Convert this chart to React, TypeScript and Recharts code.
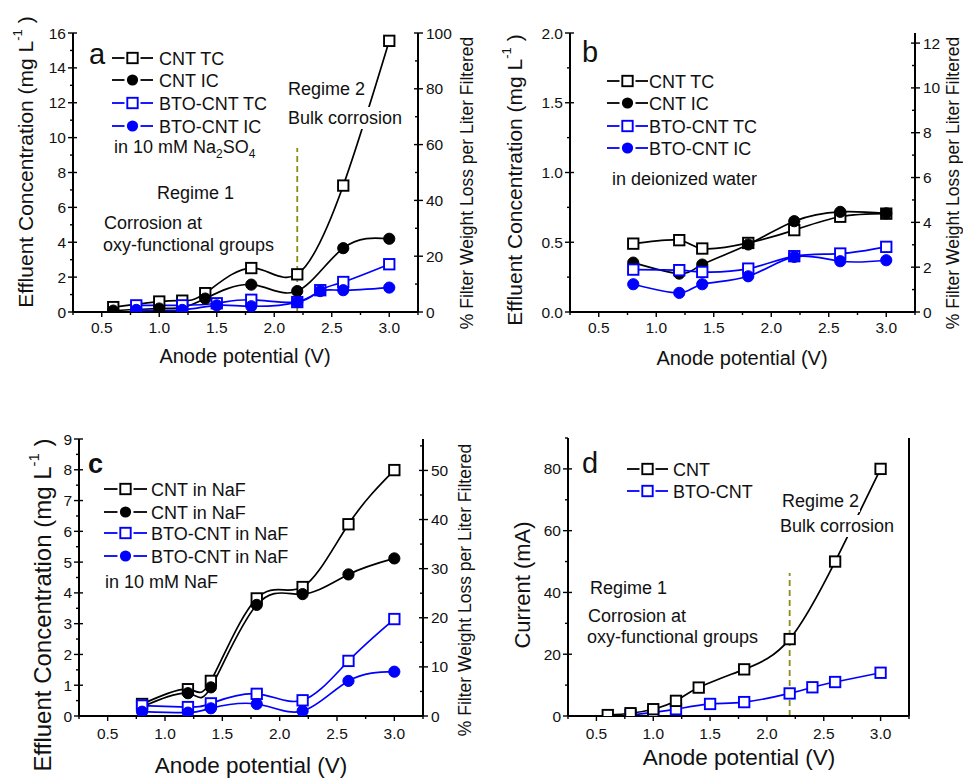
import React from 'react';
import { LineChart, Line, XAxis, YAxis, ReferenceLine } from 'recharts';

const FONT = '"Liberation Sans", Arial, Helvetica, sans-serif';
const BLACK = '#000000';
const BLUE = '#0000ff';
const OLIVE = '#8c8c14';

// ---------- Panel a (10 mM Na2SO4) ----------
const aCntX = [0.6, 1.0, 1.2, 1.4, 1.8, 2.2, 2.6, 3.0];
const aCntTC = [0.28, 0.6, 0.65, 1.08, 2.52, 2.16, 7.25, 15.55];
const aCntIC = [0.08, 0.2, 0.25, 0.77, 1.57, 1.2, 3.66, 4.2];
const aBtoX = [0.8, 1.2, 1.5, 1.8, 2.2, 2.4, 2.6, 3.0];
const aBtoTC = [0.38, 0.38, 0.5, 0.7, 0.57, 1.25, 1.72, 2.74];
const aBtoIC = [0.12, 0.12, 0.38, 0.33, 0.57, 1.2, 1.25, 1.4];

// ---------- Panel b (deionized water) ----------
const bX = [0.8, 1.2, 1.4, 1.8, 2.2, 2.6, 3.0];
const bCntTC = [0.49, 0.515, 0.455, 0.495, 0.587, 0.683, 0.705];
const bCntIC = [0.354, 0.275, 0.34, 0.484, 0.651, 0.718, 0.707];
const bBtoTC = [0.304, 0.3, 0.287, 0.311, 0.4, 0.419, 0.467];
const bBtoIC = [0.199, 0.137, 0.199, 0.256, 0.395, 0.364, 0.371];

// ---------- Panel c (10 mM NaF) ----------
const cX = [0.8, 1.2, 1.4, 1.8, 2.2, 2.6, 3.0];
const cCntTC = [0.39, 0.87, 1.14, 3.82, 4.19, 6.23, 7.99];
const cCntIC = [0.3, 0.74, 0.93, 3.61, 3.96, 4.6, 5.12];
const cBtoTC = [0.34, 0.29, 0.41, 0.72, 0.51, 1.79, 3.15];
const cBtoIC = [0.14, 0.11, 0.25, 0.39, 0.16, 1.14, 1.44];

// ---------- Panel d (current) ----------
const dCntX = [0.6, 0.8, 1.0, 1.2, 1.4, 1.8, 2.2, 2.6, 3.0];
const dCnt = [0.3, 0.9, 2.2, 4.9, 9.2, 15.1, 24.9, 50, 80];
const dBtoX = [0.8, 1.0, 1.2, 1.5, 1.8, 2.2, 2.4, 2.6, 3.0];
const dBto = [0.3, 1.2, 2.2, 3.9, 4.5, 7.3, 9.3, 11, 14];

// ---------- Ticks ----------
const xTicks = [0.25, 0.5, 0.75, 1.0, 1.25, 1.5, 1.75, 2.0, 2.25, 2.5, 2.75, 3.0, 3.25];
const xMajors = [0.5, 1.0, 1.5, 2.0, 2.5, 3.0];
const aLeftTicks = [0, 1, 2, 3, 4, 5, 6, 7, 8, 9, 10, 11, 12, 13, 14, 15, 16];
const aLeftMajors = [0, 2, 4, 6, 8, 10, 12, 14, 16];
const aRightTicks = [0, 10, 20, 30, 40, 50, 60, 70, 80, 90, 100];
const aRightMajors = [0, 20, 40, 60, 80, 100];
const bLeftTicks = [0, 0.25, 0.5, 0.75, 1.0, 1.25, 1.5, 1.75, 2.0];
const bLeftMajors = [0, 0.5, 1.0, 1.5, 2.0];
const bRightTicks = [0, 1, 2, 3, 4, 5, 6, 7, 8, 9, 10, 11, 12];
const bRightMajors = [0, 2, 4, 6, 8, 10, 12];
const cLeftTicks = [0, 0.5, 1, 1.5, 2, 2.5, 3, 3.5, 4, 4.5, 5, 5.5, 6, 6.5, 7, 7.5, 8, 8.5, 9];
const cLeftMajors = [0, 1, 2, 3, 4, 5, 6, 7, 8, 9];
const cRightTicks = [0, 5, 10, 15, 20, 25, 30, 35, 40, 45, 50, 55];
const cRightMajors = [0, 10, 20, 30, 40, 50];
const dLeftTicks = [0, 10, 20, 30, 40, 50, 60, 70, 80, 90];
const dLeftMajors = [0, 20, 40, 60, 80];

const toRows = (xs: number[], ys: number[]) => xs.map((x, i) => ({ x, y: ys[i] }));
const isMajor = (v: number, arr: number[]) => arr.some((m) => Math.abs(m - v) < 1e-6);

type Marker = 'square' | 'circle';

const makeDot = (color: string, marker: Marker) => (p: any) => {
  if (p.cx == null || p.cy == null) return <g key={`n${p.index}`} />;
  if (marker === 'square') {
    return (
      <g key={`d${p.index}`}>
        <rect x={p.cx - 5.2} y={p.cy - 5.2} width={10.4} height={10.4} fill="#fff" stroke={color} strokeWidth={1.9} />
      </g>
    );
  }
  return (
    <g key={`d${p.index}`}>
      <circle cx={p.cx} cy={p.cy} r={5.6} fill={color} stroke={color} strokeWidth={1} />
    </g>
  );
};

const makeTick = (side: 'left' | 'right' | 'bottom', majors: number[], fmt: (v: number) => string, labelOff: number) => (props: any) => {
  const { x, y, payload } = props;
  const v = payload.value;
  const major = isMajor(v, majors);
  if (side === 'bottom') {
    return (
      <g>
        <line x1={x} x2={x} y1={y} y2={y + (major ? 5 : 3)} stroke="#000" strokeWidth={1.4} />
        {major && (
          <text x={x} y={y + labelOff} textAnchor="middle" fontSize={15.5} fontFamily={FONT} fill="#111">
            {fmt(v)}
          </text>
        )}
      </g>
    );
  }
  if (side === 'left') {
    return (
      <g>
        <line x1={major ? x - 5 : x - 3} x2={major ? x + 4 : x} y1={y} y2={y} stroke="#000" strokeWidth={1.4} />
        {major && (
          <text x={x - 7} y={y} textAnchor="end" dominantBaseline="central" fontSize={15.5} fontFamily={FONT} fill="#111">
            {fmt(v)}
          </text>
        )}
      </g>
    );
  }
  return (
    <g>
      <line x1={major ? x - 4 : x - 3} x2={major ? x + 5 : x} y1={y} y2={y} stroke="#000" strokeWidth={1.4} />
      {major && (
        <text x={x + 8} y={y} textAnchor="start" dominantBaseline="central" fontSize={15.5} fontFamily={FONT} fill="#111">
          {fmt(v)}
        </text>
      )}
    </g>
  );
};

const fmt1 = (v: number) => v.toFixed(1);
const fmt0 = (v: number) => String(Math.round(v));

type Series = { xs: number[]; ys: number[]; color: string; marker: Marker; name: string };

type PanelProps = {
  left: number;
  top: number;
  width: number;
  height: number;
  box: { x1: number; x2: number; y1: number; y2: number };
  xLabelOff: number;
  yDomain: [number, number];
  yTicks: number[];
  yMajors: number[];
  yFmt: (v: number) => string;
  rDomain?: [number, number];
  rTicks?: number[];
  rMajors?: number[];
  series: Series[];
  refTop?: number;
};

const AXIS_LINE = { stroke: '#000', strokeWidth: 2 };

function Panel(props: PanelProps) {
  const { left, top, width, height, box, series } = props;
  const margin = {
    top: box.y1 - top,
    bottom: top + height - box.y2 - 30,
    left: box.x1 - left - 50,
    right: left + width - box.x2 - 40,
  };
  return (
    <div style={{ position: 'absolute', left, top, width, height }}>
      <LineChart width={width} height={height} margin={margin}>
        <XAxis
          xAxisId="b"
          type="number"
          dataKey="x"
          domain={[0.25, 3.25]}
          allowDataOverflow
          ticks={xTicks}
          interval={0}
          tickSize={0}
          tickMargin={0}
          height={30}
          axisLine={AXIS_LINE}
          tick={makeTick('bottom', xMajors, fmt1, props.xLabelOff)}
        />
        <XAxis
          xAxisId="t"
          orientation="top"
          type="number"
          dataKey="x"
          domain={[0.25, 3.25]}
          allowDataOverflow
          height={0}
          tick={false}
          tickLine={false}
          axisLine={AXIS_LINE}
        />
        <YAxis
          yAxisId="l"
          type="number"
          domain={props.yDomain}
          allowDataOverflow
          ticks={props.yTicks}
          interval={0}
          tickSize={0}
          tickMargin={0}
          width={50}
          axisLine={AXIS_LINE}
          tick={makeTick('left', props.yMajors, props.yFmt, 0)}
        />
        {props.rDomain ? (
          <YAxis
            yAxisId="r"
            orientation="right"
            type="number"
            domain={props.rDomain}
            allowDataOverflow
            ticks={props.rTicks}
            interval={0}
            tickSize={0}
            tickMargin={0}
            width={40}
            axisLine={AXIS_LINE}
            tick={makeTick('right', props.rMajors || [], fmt0, 0)}
          />
        ) : (
          <YAxis
            yAxisId="r"
            orientation="right"
            type="number"
            domain={[0, 1]}
            width={40}
            tick={false}
            tickLine={false}
            axisLine={AXIS_LINE}
          />
        )}
        {series.map((s) => (
          <Line
            key={s.name}
            xAxisId="b"
            yAxisId="l"
            data={toRows(s.xs, s.ys)}
            dataKey="y"
            name={s.name}
            type="natural"
            stroke={s.color}
            strokeWidth={1.7}
            dot={makeDot(s.color, s.marker)}
            activeDot={false}
            isAnimationActive={false}
          />
        ))}
        {props.refTop != null && (
          <ReferenceLine
            xAxisId="b"
            yAxisId="l"
            segment={[
              { x: 2.2, y: 0 },
              { x: 2.2, y: props.refTop },
            ]}
            stroke={OLIVE}
            strokeWidth={1.8}
            strokeDasharray="6 4"
          />
        )}
      </LineChart>
    </div>
  );
}

function LegendRow({ x1, x2, y, color, marker, label, tx }: { x1: number; x2: number; y: number; color: string; marker: Marker; label: string; tx: number }) {
  const m = (x1 + x2) / 2;
  return (
    <g>
      <line x1={x1} x2={m - 8} y1={y} y2={y} stroke={color} strokeWidth={1.8} />
      <line x1={m + 8} x2={x2} y1={y} y2={y} stroke={color} strokeWidth={1.8} />
      {marker === 'square' ? (
        <rect x={m - 5.2} y={y - 5.2} width={10.4} height={10.4} fill="#fff" stroke={color} strokeWidth={1.9} />
      ) : (
        <circle cx={m} cy={y} r={5.6} fill={color} />
      )}
      <text x={tx} y={y + 6.5} fontSize={18} fontFamily={FONT} fill="#111">
        {label}
      </text>
    </g>
  );
}

function T({ x, y, children, size = 18, weight }: { x: number; y: number; children: any; size?: number; weight?: string }) {
  return (
    <text x={x} y={y} fontSize={size} fontFamily={FONT} fill="#111" fontWeight={weight}>
      {children}
    </text>
  );
}

function LeftTitle({ x, y, size = 21 }: { x: number; y: number; size?: number }) {
  return (
    <text transform={`translate(${x},${y}) rotate(-90)`} textAnchor="middle" dominantBaseline="central" fontSize={size} fontFamily={FONT} fill="#111">
      Effluent Concentration (mg L<tspan dy={-8} fontSize={size * 0.62}>-1</tspan>
      <tspan dy={8}> )</tspan>
    </text>
  );
}

function RightTitle({ x, y }: { x: number; y: number }) {
  return (
    <text transform={`translate(${x},${y}) rotate(-90)`} textAnchor="middle" dominantBaseline="central" fontSize={17.5} fontFamily={FONT} fill="#111">
      % Filter Weight Loss per Liter Filtered
    </text>
  );
}

function XTitle({ x, y, size = 20 }: { x: number; y: number; size?: number }) {
  return (
    <text x={x} y={y} textAnchor="middle" fontSize={size} fontFamily={FONT} fill="#111">
      Anode potential (V)
    </text>
  );
}

export default function App() {
  const aSeries: Series[] = [
    { xs: aCntX, ys: aCntTC, color: BLACK, marker: 'square', name: 'CNT TC' },
    { xs: aCntX, ys: aCntIC, color: BLACK, marker: 'circle', name: 'CNT IC' },
    { xs: aBtoX, ys: aBtoTC, color: BLUE, marker: 'square', name: 'BTO-CNT TC' },
    { xs: aBtoX, ys: aBtoIC, color: BLUE, marker: 'circle', name: 'BTO-CNT IC' },
  ];
  const bSeries: Series[] = [
    { xs: bX, ys: bCntTC, color: BLACK, marker: 'square', name: 'CNT TC' },
    { xs: bX, ys: bCntIC, color: BLACK, marker: 'circle', name: 'CNT IC' },
    { xs: bX, ys: bBtoTC, color: BLUE, marker: 'square', name: 'BTO-CNT TC' },
    { xs: bX, ys: bBtoIC, color: BLUE, marker: 'circle', name: 'BTO-CNT IC' },
  ];
  const cSeries: Series[] = [
    { xs: cX, ys: cCntTC, color: BLACK, marker: 'square', name: 'CNT in NaF TC' },
    { xs: cX, ys: cCntIC, color: BLACK, marker: 'circle', name: 'CNT in NaF IC' },
    { xs: cX, ys: cBtoTC, color: BLUE, marker: 'square', name: 'BTO-CNT in NaF TC' },
    { xs: cX, ys: cBtoIC, color: BLUE, marker: 'circle', name: 'BTO-CNT in NaF IC' },
  ];
  const dSeries: Series[] = [
    { xs: dBtoX, ys: dBto, color: BLUE, marker: 'square', name: 'BTO-CNT' },
    { xs: dCntX, ys: dCnt, color: BLACK, marker: 'square', name: 'CNT' },
  ];

  return (
    <div style={{ position: 'absolute', left: 0, top: 0, width: 963, height: 779, background: '#fff', fontFamily: FONT, overflow: 'hidden' }}>
      <Panel
        left={0}
        top={0}
        width={480}
        height={380}
        box={{ x1: 73, x2: 418, y1: 33, y2: 312 }}
        xLabelOff={21}
        yDomain={[0, 16]}
        yTicks={aLeftTicks}
        yMajors={aLeftMajors}
        yFmt={fmt0}
        rDomain={[0, 100]}
        rTicks={aRightTicks}
        rMajors={aRightMajors}
        series={aSeries}
        refTop={9.4}
      />
      <Panel
        left={490}
        top={0}
        width={473}
        height={380}
        box={{ x1: 570, x2: 915, y1: 33, y2: 312 }}
        xLabelOff={21}
        yDomain={[0, 2]}
        yTicks={bLeftTicks}
        yMajors={bLeftMajors}
        yFmt={fmt1}
        rDomain={[0, 12.45]}
        rTicks={bRightTicks}
        rMajors={bRightMajors}
        series={bSeries}
      />
      <Panel
        left={0}
        top={390}
        width={480}
        height={389}
        box={{ x1: 79, x2: 423, y1: 439, y2: 716 }}
        xLabelOff={23}
        yDomain={[0, 9]}
        yTicks={cLeftTicks}
        yMajors={cLeftMajors}
        yFmt={fmt0}
        rDomain={[0, 56.4]}
        rTicks={cRightTicks}
        rMajors={cRightMajors}
        series={cSeries}
      />
      <Panel
        left={490}
        top={390}
        width={473}
        height={389}
        box={{ x1: 568, x2: 909, y1: 438, y2: 716 }}
        xLabelOff={23}
        yDomain={[0, 90]}
        yTicks={dLeftTicks}
        yMajors={dLeftMajors}
        yFmt={fmt0}
        series={dSeries}
        refTop={46.3}
      />
      <svg width={963} height={779} style={{ position: 'absolute', left: 0, top: 0, pointerEvents: 'none' }}>
        {/* Panel a */}
        <T x={89} y={64} size={29}>a</T>
        <LegendRow x1={112} x2={153} y={58} color={BLACK} marker="square" label="CNT TC" tx={159} />
        <LegendRow x1={112} x2={153} y={80} color={BLACK} marker="circle" label="CNT IC" tx={159} />
        <LegendRow x1={112} x2={153} y={103} color={BLUE} marker="square" label="BTO-CNT TC" tx={159} />
        <LegendRow x1={112} x2={153} y={126} color={BLUE} marker="circle" label="BTO-CNT IC" tx={159} />
        <T x={114} y={153}>
          in 10 mM Na<tspan dy={5} fontSize={12}>2</tspan>
          <tspan dy={-5}>SO</tspan>
          <tspan dy={5} fontSize={12}>4</tspan>
        </T>
        <rect x={286} y={78} width={78} height={22} fill="#fff" />
        <rect x={286} y={107} width={122} height={22} fill="#fff" />
        <T x={288} y={95}>Regime 2</T>
        <T x={288} y={124}>Bulk corrosion</T>
        <T x={157} y={199}>Regime 1</T>
        <T x={104} y={229}>Corrosion at</T>
        <T x={103} y={251}>oxy-functional groups</T>
        <LeftTitle x={25} y={162} />
        <RightTitle x={467} y={183} />
        <XTitle x={245} y={363} />

        {/* Panel b */}
        <T x={582} y={62} size={29}>b</T>
        <LegendRow x1={607} x2={648} y={81} color={BLACK} marker="square" label="CNT TC" tx={649} />
        <LegendRow x1={607} x2={648} y={103} color={BLACK} marker="circle" label="CNT IC" tx={649} />
        <LegendRow x1={607} x2={648} y={126} color={BLUE} marker="square" label="BTO-CNT TC" tx={649} />
        <LegendRow x1={607} x2={648} y={148} color={BLUE} marker="circle" label="BTO-CNT IC" tx={649} />
        <T x={612} y={185}>in deionized water</T>
        <LeftTitle x={514} y={180} />
        <RightTitle x={953} y={183} />
        <XTitle x={742} y={365} />

        {/* Panel c */}
        <T x={88} y={473} size={27} weight="bold">c</T>
        <LegendRow x1={104} x2={147} y={489} color={BLACK} marker="square" label="CNT in NaF" tx={151} />
        <LegendRow x1={104} x2={147} y={512} color={BLACK} marker="circle" label="CNT in NaF" tx={151} />
        <LegendRow x1={104} x2={147} y={533} color={BLUE} marker="square" label="BTO-CNT in NaF" tx={151} />
        <LegendRow x1={104} x2={147} y={556} color={BLUE} marker="circle" label="BTO-CNT in NaF" tx={151} />
        <T x={105} y={588}>in 10 mM NaF</T>
        <LeftTitle x={42} y={605} size={24} />
        <RightTitle x={465} y={590} />
        <XTitle x={251} y={773} size={22.5} />

        {/* Panel d */}
        <T x={582} y={473} size={29}>d</T>
        <LegendRow x1={627} x2={668} y={469} color={BLACK} marker="square" label="CNT" tx={673} />
        <LegendRow x1={627} x2={668} y={491} color={BLUE} marker="square" label="BTO-CNT" tx={673} />
        <rect x={780} y={490} width={80} height={22} fill="#fff" />
        <rect x={778} y={515} width={124} height={22} fill="#fff" />
        <T x={782} y={507}>Regime 2</T>
        <T x={780} y={532}>Bulk corrosion</T>
        <T x={590} y={594}>Regime 1</T>
        <T x={588} y={622}>Corrosion at</T>
        <T x={587} y={643}>oxy-functional groups</T>
        <text transform={`translate(522,585) rotate(-90)`} textAnchor="middle" dominantBaseline="central" fontSize={22} fontFamily={FONT} fill="#111">
          Current (mA)
        </text>
        <XTitle x={739} y={765} size={22.5} />
      </svg>
    </div>
  );
}
